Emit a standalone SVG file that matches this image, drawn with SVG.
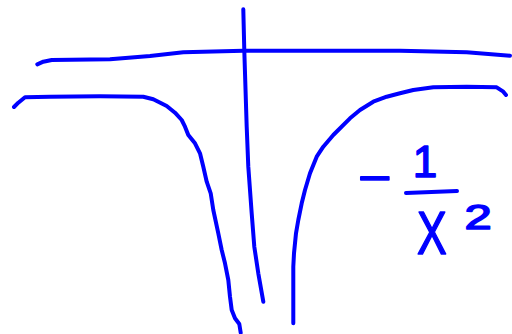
<svg xmlns="http://www.w3.org/2000/svg" width="512" height="334" viewBox="0 0 512 334">
<style>
.ink{fill:none;stroke:#0000ff;stroke-width:4;stroke-linecap:round;stroke-linejoin:round}
.lbl{fill:#0000ff;stroke:#0000ff;stroke-width:1.5;stroke-linejoin:round;font-family:"Liberation Sans",Arial,sans-serif;text-anchor:middle}
</style>
<rect width="512" height="334" fill="#ffffff"/>
<g id="axes">
<polyline class="ink" points="37.3,64.3 43.3,61.7 51.7,60 110,59.3 150,56 183.3,52.3 243.3,50.7 400,50.7 466.7,52.3 510,55.7"/>
<polyline class="ink" points="243.3,9.3 244.3,50.7 246.7,126.7 248.3,166.7 251.7,213.3 254.3,246.7 258.3,273.3 263.3,301.7"/>
</g>
<g id="curve-left">
<polyline class="ink" points="14,107 18.3,102.7 25,97.3 50,96.7 100,96.3 143.3,96.7 153.3,99.3 166.7,106 175,112.7 181.7,120 185,126.7 188.3,135 195,143.3 200,153.3 203.3,166.7 206.7,181.7 210.7,193.3 213.3,210 218.3,233.3 221.7,250 225,263.3 228.3,280 230,296.7 231.7,310 235,318.3 239.3,324 240.7,332.7"/>
</g>
<g id="curve-right">
<polyline class="ink" points="506,95 503.3,91.7 496.7,87.3 466.7,86.7 433.3,87.3 413.3,90 400,93.3 386.7,96.7 373.3,101.7 360,110 350,118.3 333.3,135 323.3,146.7 316.7,156.7 310,173.3 305,190 301.7,203.3 298.3,220 296,233.3 294,253.3 293.3,266.7 293.3,300 293.3,323.3"/>
</g>
<g id="label">
<text class="lbl" transform="translate(375 193) scale(1.3 1)" font-size="44">−</text>
<text class="lbl" x="425" y="177" font-size="44">1</text>
<line class="ink" x1="406" y1="193" x2="457" y2="191"/>
<text class="lbl" font-size="62" transform="translate(432 254) scale(0.72 1)">X</text>
<text class="lbl" transform="translate(478 229) scale(1.4 1)" font-size="35">2</text>
</g>
</svg>
